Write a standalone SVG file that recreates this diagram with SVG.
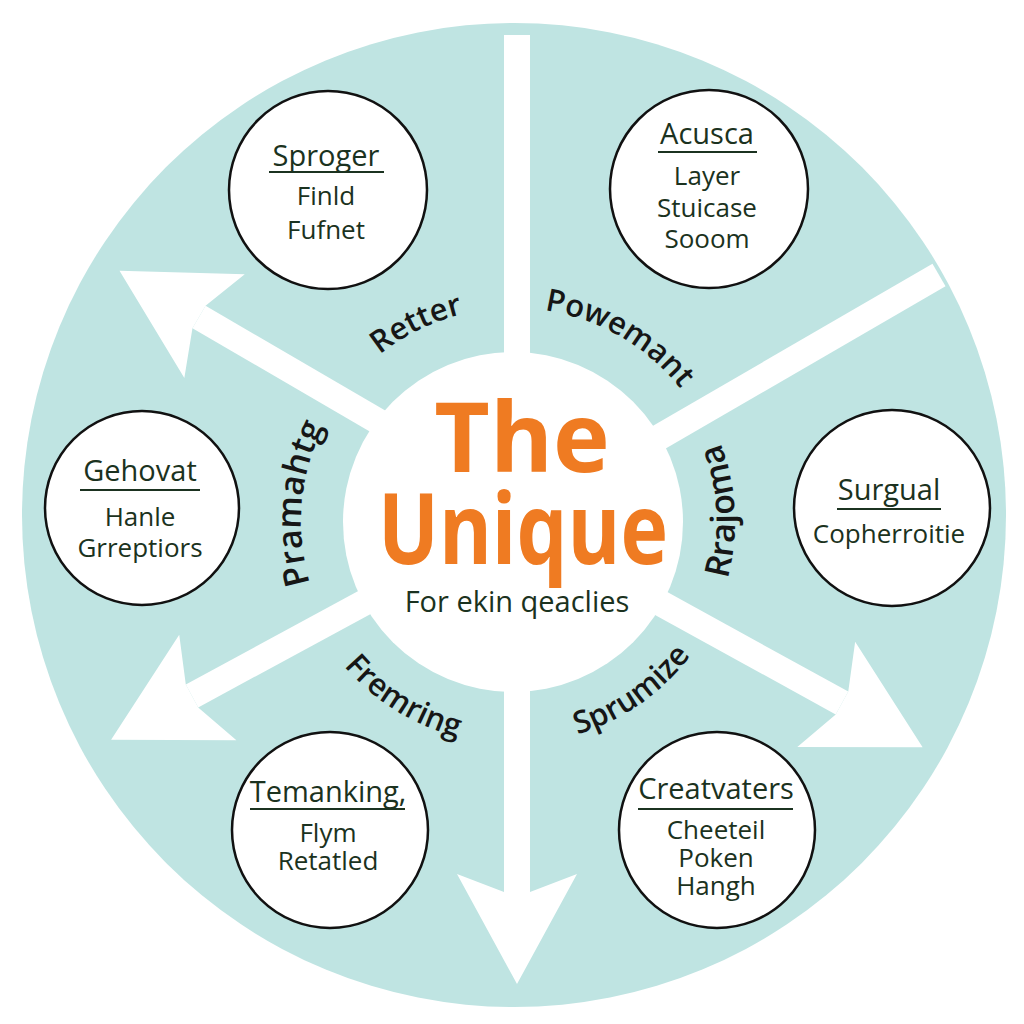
<svg xmlns="http://www.w3.org/2000/svg" width="1024" height="1024" viewBox="0 0 1024 1024">
<style>
.node circle{fill:#fff;stroke:#111;stroke-width:2.5}
.nt{font-family:"Open Sans","Noto Sans",sans-serif;fill:#1b3220;text-anchor:middle}
.tt{font-size:29px;font-weight:500}
.bt{font-size:26px;font-weight:500}
.ul{stroke:#1b3220;stroke-width:2}
.bar{stroke:#fff;stroke-width:26;fill:none}
.lbl{font-family:"Open Sans","Noto Sans",sans-serif;font-size:31px;font-weight:600;fill:#161616}
.lbv{font-size:34px}
.big{font-family:"Open Sans","Noto Sans",sans-serif;font-weight:700;fill:#ef7b22;text-anchor:middle}
</style>
<defs>
<marker id="head" markerUnits="userSpaceOnUse" orient="auto" markerWidth="120" markerHeight="130" viewBox="-20 -65 120 130" refX="0" refY="0">
<path d="M92,0 L-18,-60 L0,-13 L0,13 L-18,60 Z" fill="#fff"/>
</marker>
<path id="pRetter" d="M327.7,415 A214,214 0 0 1 542.8,310.1"/>
<path id="pPowemant" d="M494.3,308.8 A214,214 0 0 1 707,431.6"/>
<path id="pPramahtg" d="M329.4,628 A212,212 0 0 1 350.6,385.7"/>
<path id="pFremring" d="M308.6,608.7 A222,222 0 0 0 524.6,743.7"/>
<path id="pSprumize" d="M513,744 A222,222 0 0 0 721.6,597.9"/>
<path id="pRrajoma" d="M701.3,639.6 A222,222 0 0 0 687.9,385.3"/>
</defs>
<rect width="1024" height="1024" fill="#fff"/>
<circle cx="514" cy="515" r="492" fill="#bfe4e2"/>
<g id="connectors">
<path class="bar" d="M517,522 L517,35"/>
<path class="bar" d="M513,522 L939,275"/>
<path class="bar" d="M513,500 L199,317" marker-end="url(#head)"/>
<path class="bar" d="M513,522 L192,696" marker-end="url(#head)"/>
<path class="bar" d="M513,522 L842,703" marker-end="url(#head)"/>
<path class="bar" d="M517,522 L517,892" marker-end="url(#head)"/>
</g>
<g id="center">
<circle cx="513" cy="522" r="170" fill="#fff"/>
<text class="big" x="522" y="472" font-size="96">The</text>
<text class="big" x="523" y="564" font-size="98" textLength="290" lengthAdjust="spacingAndGlyphs">Unique</text>
<text x="517" y="612" font-family="Open Sans, Noto Sans, sans-serif" font-size="29" font-weight="500" fill="#1b3220" text-anchor="middle">For ekin qeaclies</text>
</g>
<g id="node-sproger" class="node">
<circle cx="328" cy="190" r="99"/>
<text class="nt tt" x="326" y="166">Sproger</text>
<line class="ul" x1="269" y1="172" x2="384" y2="172"/>
<text class="nt bt" x="326" y="205">Finld</text>
<text class="nt bt" x="326" y="239">Fufnet</text>
</g>
<g id="node-acusca" class="node">
<circle cx="709" cy="189" r="99"/>
<text class="nt tt" x="707" y="144">Acusca</text>
<line class="ul" x1="658" y1="152" x2="757" y2="152"/>
<text class="nt bt" x="707" y="185">Layer</text>
<text class="nt bt" x="707" y="217">Stuicase</text>
<text class="nt bt" x="707" y="248">Sooom</text>
</g>
<g id="node-gehovat" class="node">
<circle cx="142" cy="508" r="97"/>
<text class="nt tt" x="140" y="481">Gehovat</text>
<line class="ul" x1="80" y1="490" x2="200" y2="490"/>
<text class="nt bt" x="140" y="526">Hanle</text>
<text class="nt bt" x="140" y="557">Grreptiors</text>
</g>
<g id="node-surgual" class="node">
<circle cx="892" cy="508" r="98"/>
<text class="nt tt" x="889" y="500">Surgual</text>
<line class="ul" x1="837" y1="509" x2="941" y2="509"/>
<text class="nt bt" x="889" y="543">Copherroitie</text>
</g>
<g id="node-temanking" class="node">
<circle cx="330" cy="830" r="98"/>
<text class="nt tt" x="328" y="802">Temanking,</text>
<line class="ul" x1="250" y1="809" x2="405" y2="809"/>
<text class="nt bt" x="328" y="842">Flym</text>
<text class="nt bt" x="328" y="870">Retatled</text>
</g>
<g id="node-creatvaters" class="node">
<circle cx="717" cy="830" r="98"/>
<text class="nt tt" x="716" y="799">Creatvaters</text>
<line class="ul" x1="638" y1="809" x2="793" y2="809"/>
<text class="nt bt" x="716" y="839">Cheeteil</text>
<text class="nt bt" x="716" y="867">Poken</text>
<text class="nt bt" x="716" y="895">Hangh</text>
</g>
<g id="labels">
<text class="lbl"><textPath href="#pRetter" startOffset="50%" text-anchor="middle">Retter</textPath></text>
<text class="lbl"><textPath href="#pPowemant" startOffset="50%" text-anchor="middle">Powemant</textPath></text>
<text class="lbl lbv"><textPath href="#pPramahtg" startOffset="50%" text-anchor="middle">Pramahtg</textPath></text>
<text class="lbl"><textPath href="#pFremring" startOffset="50%" text-anchor="middle">Fremring</textPath></text>
<text class="lbl"><textPath href="#pSprumize" startOffset="50%" text-anchor="middle">Sprumize</textPath></text>
<text class="lbl lbv"><textPath href="#pRrajoma" startOffset="50%" text-anchor="middle">Rrajoma</textPath></text>
</g>
</svg>
